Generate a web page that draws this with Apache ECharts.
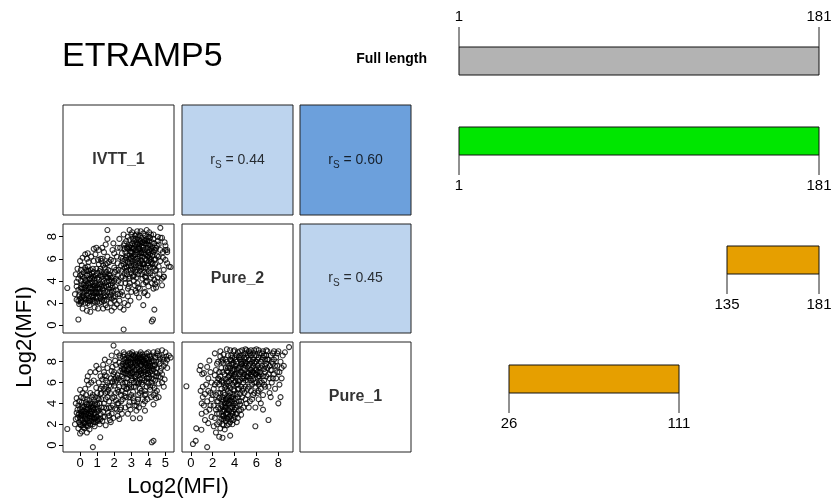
<!DOCTYPE html>
<html><head><meta charset="utf-8">
<script src="https://cdn.jsdelivr.net/npm/echarts@6.0.0/dist/echarts.min.js"></script>
<style>html,body{margin:0;padding:0;background:#fff}#c{width:838px;height:504px}</style>
</head><body><div id="c"></div>
<script>
// ---------------- data ----------------
const chartTitle = 'ETRAMP5';
const variables = ['IVTT_1', 'Pure_2', 'Pure_1'];
const corrCells = [[0, 1, 0.44], [0, 2, 0.60], [1, 2, 0.45]]; // row, col, Spearman r
const ivttTicks = [0, 1, 2, 3, 4, 5];
const pure2Ticks = [0, 2, 4, 6, 8];
const pure1Ticks = [0, 2, 4, 6, 8];
const axisTitle = 'Log2(MFI)';
const fragmentLabels = ['Full length', '', '', ''];
const fragmentStart = [1, 1, 135, 26];
const fragmentEnd = [181, 181, 181, 111];

// IVTT_1 (x) vs Pure_2 (y)
const scatterA = [
[-0.3,2.8],[-0.2,3.5],[-0.25,4.6],[-0.1,2.2],[-0.15,5.1],[0,3.0],[0.05,4.0],[-0.05,1.9],[0.1,2.5],[0.0,5.8],[-0.1,4.2],[0.1,3.3],[0.15,6.1],[0.05,2.0],[0.2,4.8],[0.15,1.5],[-0.2,3.9],[0.1,5.4],
[0.3,2.4],[0.35,3.1],[0.25,3.8],[0.4,4.5],[0.3,5.2],[0.45,2.0],[0.5,2.9],[0.55,3.6],[0.4,6.0],[0.6,4.2],[0.5,5.7],[0.35,4.0],[0.65,2.6],[0.7,3.3],[0.6,5.0],[0.45,6.5],[0.55,1.8],[0.3,3.4],[0.7,4.7],[0.65,6.2],[0.5,4.9],[0.4,1.3],[0.6,1.2],
[0.8,2.2],[0.85,3.0],[0.9,3.8],[0.75,4.4],[0.95,5.1],[1.0,2.6],[1.05,3.4],[0.8,5.8],[1.1,4.1],[0.9,6.4],[1.15,2.0],[1.0,4.7],[1.2,3.0],[0.85,1.6],[1.1,5.5],[0.95,7.0],[1.2,6.0],[0.75,3.6],[1.05,1.5],[1.2,4.5],[0.9,2.9],[1.1,6.8],
[1.3,2.3],[1.35,3.2],[1.4,4.0],[1.25,4.8],[1.5,5.5],[1.45,2.7],[1.55,3.5],[1.3,6.0],[1.6,4.3],[1.5,1.8],[1.65,5.0],[1.4,6.6],[1.7,2.5],[1.55,3.9],[1.35,1.5],[1.6,6.2],[1.45,4.6],[1.7,3.3],[1.25,5.8],[1.6,1.6],[1.5,7.3],[1.7,5.7],
[1.8,2.0],[1.85,3.0],[1.9,3.8],[1.75,4.5],[2.0,5.2],[1.95,2.5],[2.05,3.5],[1.8,5.9],[2.1,4.2],[2.0,1.6],[2.15,6.2],[1.9,6.8],[2.2,2.8],[2.05,4.8],[1.85,1.3],[2.2,5.6],[1.95,7.4],[2.1,3.2],[2.0,4.0],[1.8,3.6],[2.15,1.9],[2.2,7.0],
[2.3,2.2],[2.35,3.4],[2.4,4.3],[2.25,5.0],[2.5,5.8],[2.45,6.5],[2.55,7.2],[2.3,7.8],[2.6,4.7],[2.5,2.7],[2.65,3.8],[2.4,6.1],[2.7,5.3],[2.55,8.2],[2.35,1.6],[2.6,6.9],[2.45,3.0],[2.7,7.6],[2.25,4.0],[2.6,2.0],[2.5,4.4],[2.65,5.9],[2.35,7.0],[2.55,1.4],
[2.8,2.6],[2.85,3.5],[2.9,4.4],[2.75,5.2],[3.0,6.0],[2.95,6.7],[3.05,7.4],[2.8,8.0],[3.1,5.0],[3.0,3.0],[3.15,4.0],[2.9,5.6],[3.2,6.4],[3.05,8.4],[2.85,7.1],[3.1,7.8],[2.95,2.2],[3.2,3.6],[2.75,6.3],[3.15,5.5],[3.0,4.7],[2.8,1.8],[3.1,6.9],[2.9,8.6],[3.2,8.1],
[3.3,2.9],[3.35,3.8],[3.4,4.6],[3.25,5.4],[3.5,6.2],[3.45,6.9],[3.55,7.6],[3.3,8.2],[3.6,5.1],[3.5,3.3],[3.65,4.2],[3.4,5.8],[3.7,6.6],[3.55,8.5],[3.35,7.3],[3.6,7.9],[3.45,2.5],[3.7,3.7],[3.25,6.4],[3.65,5.6],[3.5,4.9],[3.3,4.3],[3.6,7.1],[3.4,8.0],[3.7,8.3],
[3.8,3.0],[3.85,3.9],[3.9,4.7],[3.75,5.5],[4.0,6.3],[3.95,7.0],[4.05,7.6],[3.8,8.1],[4.1,5.2],[4.0,3.5],[4.15,4.3],[3.9,5.9],[4.2,6.7],[4.05,8.4],[3.85,7.4],[4.1,7.9],[3.95,2.7],[4.2,3.8],[3.75,6.5],[4.15,5.7],[4.0,4.9],[3.8,4.4],[4.1,7.2],[3.9,8.6],
[4.3,3.3],[4.35,4.1],[4.4,4.9],[4.25,5.6],[4.5,6.3],[4.45,7.0],[4.55,7.6],[4.3,8.2],[4.6,5.3],[4.5,3.9],[4.65,4.6],[4.4,6.0],[4.7,6.8],[4.55,8.0],[4.35,7.4],[4.6,7.3],[4.25,4.5],[4.7,5.8],[4.3,6.6],[4.45,3.4],
[4.8,4.2],[4.9,5.0],[4.85,6.1],[5.0,6.8],[4.95,7.5],[5.1,5.6],[4.8,7.9],[5.2,5.3],[5.1,6.6],[4.9,4.4],[5.0,7.2],[4.8,3.6],
[-0.75,3.35],[2.55,-0.4],[4.2,0.33],[4.27,0.5],[-0.1,0.5],[4.35,1.4],[3.7,1.8],[1.6,8.6],[4.7,8.8],[5.1,6.8],[5.3,5.25],[4.9,4.35],
[0.0,2.4],[0.2,3.0],[0.3,2.0],[0.1,3.7],[0.4,2.7],[0.5,3.3],[0.6,2.2],[0.7,3.9],[0.8,2.7],[0.9,3.3],[1.0,2.1],[1.1,3.7],[1.2,2.4],[1.3,3.9],[1.4,2.9],[1.5,4.4],[1.6,3.0],[1.7,4.0],[1.8,2.7],[1.9,4.3],
[0.25,4.3],[0.55,4.6],[0.85,4.2],[1.15,4.9],[1.45,5.2],[1.75,4.9],[0.15,2.7],[0.45,3.8],[0.75,2.9],[1.05,4.3],[1.35,2.6],[1.65,3.6],[1.95,3.1],[0.35,2.3],[0.65,3.0],[0.95,2.4],[1.25,3.5],[1.55,2.3],[1.85,4.0],[0.05,3.4],
[2.6,5.2],[2.7,6.1],[2.8,6.9],[2.9,7.7],[3.0,5.3],[3.1,6.2],[3.2,7.3],[3.3,5.0],[3.4,6.4],[3.5,7.4],[3.6,5.8],[3.7,7.0],[3.8,6.0],[3.9,7.8],[4.0,5.4],[4.1,6.4],[4.2,7.5],[4.3,5.2],[4.4,6.8],
[2.75,4.6],[2.95,5.0],[3.15,4.5],[3.35,6.0],[3.55,5.3],[3.75,4.8],[3.95,6.2],[4.15,6.0],[4.35,5.9],[2.85,6.0],[3.05,6.5],[3.25,7.8],[3.45,7.7],[3.65,6.2],[3.85,5.2],[4.05,6.8],[4.25,7.0],[2.65,4.2],[3.0,7.0],[3.5,5.6],[4.0,7.3],
[-0.2,2.3],[-0.1,3.2],[0.0,4.5],[0.1,2.1],[0.2,3.6],[0.3,4.1],[0.4,3.1],[0.5,2.4],[0.6,3.8],[0.7,2.3],[0.8,4.8],[0.9,4.5],[1.0,3.6],[1.1,2.9],[1.2,5.1],[1.3,4.4],[1.4,3.5],[1.5,2.6],[1.6,5.6],[1.7,4.6],[1.8,4.3],[1.9,3.4],[2.0,2.2],[2.1,5.0],
[0.15,4.4],[0.45,5.3],[0.75,5.1],[1.05,5.9],[1.35,5.4],[1.65,4.3],[1.95,5.8],[-0.05,2.7],[0.25,2.5],[0.55,4.1],[0.85,3.5],[1.15,3.3],[1.45,3.8],[1.75,3.0],[2.05,2.6],[0.35,5.0],[0.65,4.4],[0.95,3.0],[1.25,2.1],[1.55,4.8],[1.85,2.4],[0.05,5.0],[0.3,6.4],[0.8,6.9],[1.3,7.0],
[2.4,5.4],[2.5,6.0],[2.6,7.4],[2.7,4.9],[2.8,5.7],[2.9,6.3],[3.0,8.2],[3.1,4.4],[3.2,5.9],[3.3,6.8],[3.4,7.4],[3.5,8.1],[3.6,4.6],[3.7,5.2],[3.8,6.8],[3.9,7.3],[4.0,8.0],[4.1,4.7],[4.2,5.5],[4.3,7.8],[4.4,5.5],[4.5,7.2],[4.6,6.2],
[2.45,4.9],[2.65,6.6],[2.85,4.2],[3.05,5.8],[3.25,4.8],[3.45,5.2],[3.65,7.5],[3.85,4.3],[4.05,5.8],[4.25,6.3],[4.45,5.0],[2.55,5.5],[2.75,7.0],[2.95,7.2],[3.15,7.0],[3.35,8.5],[3.55,6.5],[3.75,7.7],[3.95,5.6],[4.15,8.2],[4.35,6.8],
[2.4,3.8],[2.9,3.8],[3.4,3.4],[3.9,4.0],[4.4,3.7],[2.35,2.8],[2.8,3.3],[3.25,3.1],[3.75,2.9],[4.55,4.3],[4.7,7.9],[4.85,6.6],[5.0,5.9],[2.2,4.5],[2.0,6.5],[1.6,7.8],
[0.05,2.2],[0.2,2.6],[0.35,3.6],[0.5,2.2],[0.6,3.4],[0.75,2.5],[0.9,3.6],[1.0,2.9],[1.15,2.6],[1.3,3.3],[1.4,2.2],[0.1,4.6],[0.4,4.9],[0.7,4.2],[1.0,4.2],[1.2,3.7],[1.35,4.6],[0.25,3.3],[0.55,3.0],[0.85,2.1],
[2.85,5.4],[2.95,6.1],[3.05,7.0],[3.15,7.6],[3.25,5.7],[3.35,6.6],[3.45,7.1],[3.55,5.9],[3.65,6.8],[3.75,7.4],[3.85,6.4],[3.95,7.6],[4.05,6.1],[4.15,6.9],[3.0,6.6],[3.2,5.2],[3.4,6.9],[3.6,6.5],[3.8,7.6],[4.0,6.6],[3.3,7.5],[3.7,5.5],[2.9,7.0],[3.5,6.9]
];

// IVTT_1 (x) vs Pure_1 (y)
const scatterB = [
[-0.3,2.0],[-0.2,3.1],[-0.25,4.0],[-0.1,1.6],[-0.15,2.6],[0,3.5],[0.05,4.6],[-0.05,2.2],[0.1,1.3],[0,5.3],[-0.1,3.8],[0.1,2.9],[0.15,5.0],[0.05,1.9],[0.2,3.3],[0.15,2.4],[-0.2,4.5],[0.1,4.1],[0.0,1.1],[0.2,1.7],
[0.3,2.1],[0.35,3.0],[0.25,3.7],[0.4,4.4],[0.3,5.4],[0.45,1.8],[0.5,2.6],[0.55,3.4],[0.4,6.2],[0.6,4.0],[0.5,5.8],[0.35,4.8],[0.65,2.3],[0.7,3.2],[0.6,5.0],[0.45,6.6],[0.55,1.5],[0.3,2.8],[0.7,4.6],[0.65,6.0],[0.5,3.9],[0.4,1.2],[0.6,7.0],
[0.8,2.2],[0.85,3.1],[0.9,3.9],[0.75,4.8],[0.95,5.5],[1.0,2.7],[1.05,3.5],[0.8,6.2],[1.1,4.4],[0.9,7.0],[1.15,2.0],[1.0,5.0],[1.2,3.0],[0.85,1.8],[1.1,6.0],[0.95,7.6],[1.2,6.6],[0.75,3.6],[1.05,4.5],[1.2,5.4],[0.9,2.6],[1.1,7.3],
[1.3,2.3],[1.35,3.2],[1.4,4.0],[1.25,5.0],[1.5,5.6],[1.45,2.7],[1.55,3.5],[1.3,6.3],[1.6,4.6],[1.5,1.9],[1.65,5.3],[1.4,7.0],[1.7,2.8],[1.55,6.6],[1.35,7.7],[1.6,6.0],[1.45,8.2],[1.7,3.6],[1.25,4.4],[1.6,7.4],[1.5,4.4],[1.7,8.0],
[1.8,2.2],[1.85,3.0],[1.9,3.8],[1.75,5.0],[2.0,5.7],[1.95,2.6],[2.05,3.5],[1.8,6.4],[2.1,4.3],[2.0,7.0],[2.15,6.2],[1.9,7.5],[2.2,2.8],[2.05,8.1],[1.85,8.6],[2.2,5.3],[1.95,6.8],[2.1,7.7],[2.0,4.6],[1.8,3.6],[2.15,8.9],[2.2,6.7],
[2.3,2.5],[2.35,3.4],[2.4,4.2],[2.25,5.1],[2.5,5.9],[2.45,6.6],[2.55,7.3],[2.3,7.9],[2.6,4.7],[2.5,8.5],[2.65,3.6],[2.4,6.2],[2.7,5.4],[2.55,8.9],[2.35,7.1],[2.6,6.9],[2.45,3.0],[2.7,7.7],[2.25,4.0],[2.6,8.2],[2.5,4.4],[2.65,6.0],[2.35,8.4],[2.55,5.6],
[2.8,3.0],[2.85,3.8],[2.9,4.6],[2.75,5.4],[3.0,6.2],[2.95,6.9],[3.05,7.5],[2.8,8.1],[3.1,5.1],[3.0,8.7],[3.15,4.2],[2.9,5.8],[3.2,6.6],[3.05,8.9],[2.85,7.2],[3.1,7.9],[2.95,3.4],[3.2,3.8],[2.75,6.4],[3.15,5.6],[3.0,4.8],[2.8,8.6],[3.1,7.0],[2.9,8.3],[3.2,8.4],
[3.3,3.3],[3.35,4.1],[3.4,4.8],[3.25,5.6],[3.5,6.3],[3.45,7.0],[3.55,7.6],[3.3,8.2],[3.6,5.2],[3.5,8.7],[3.65,4.4],[3.4,5.9],[3.7,6.7],[3.55,8.9],[3.35,7.4],[3.6,8.0],[3.45,3.6],[3.7,3.9],[3.25,6.5],[3.65,5.8],[3.5,5.0],[3.3,8.7],[3.6,7.2],[3.4,8.4],[3.7,8.5],
[3.8,4.2],[3.85,4.9],[3.9,5.6],[3.75,6.2],[4.0,6.8],[3.95,7.4],[4.05,8.0],[3.8,8.5],[4.1,5.3],[4.0,8.9],[4.15,4.6],[3.9,6.4],[4.2,7.1],[4.05,8.6],[3.85,7.7],[4.1,7.8],[3.95,4.4],[4.2,6.0],[3.75,7.0],[4.15,8.3],[4.0,5.9],[3.8,5.2],
[4.3,4.8],[4.35,5.5],[4.4,6.2],[4.25,6.8],[4.5,7.4],[4.45,8.0],[4.55,8.6],[4.3,8.9],[4.6,6.6],[4.5,5.2],[4.65,7.8],[4.4,7.0],[4.7,8.3],[4.55,9.0],[4.35,7.6],[4.6,5.9],[4.25,5.7],[4.7,7.1],[4.3,6.3],[4.45,4.5],
[4.8,6.8],[4.9,7.6],[4.85,8.4],[5.0,8.9],[4.95,6.3],[5.1,8.2],[4.8,9.1],[5.2,8.6],[5.1,7.4],[4.9,5.6],[5.0,7.9],[4.8,6.0],
[-0.75,1.54],[0.75,-0.2],[1.18,0.74],[4.2,0.26],[4.3,0.4],[3.1,2.57],[3.5,2.57],[1.96,9.55],[5.3,8.4],[3.8,3.3],[4.3,3.9],[4.6,4.6],
[0.0,2.6],[0.2,2.1],[0.3,3.2],[0.1,3.0],[0.4,2.5],[0.5,3.1],[0.6,2.0],[0.7,2.7],[0.8,3.4],[0.9,2.2],[1.0,3.2],[0.25,1.6],[0.45,3.6],[0.15,3.6],[0.55,2.8],[0.35,1.9],[0.65,3.7],[0.85,2.5],[1.1,2.5],[-0.05,3.0],
[2.5,7.0],[2.6,7.6],[2.7,8.3],[2.8,6.8],[2.9,7.4],[3.0,7.8],[3.1,8.3],[3.2,7.2],[3.3,7.7],[3.4,6.7],[3.5,7.9],[3.6,8.4],[3.7,7.4],[3.8,7.9],[3.9,8.3],[4.0,7.6],[4.1,8.5],[4.2,8.0],[4.3,7.3],[4.4,8.4],
[2.55,6.4],[2.75,7.6],[2.95,8.0],[3.15,6.0],[3.35,6.2],[3.55,6.8],[3.75,8.1],[3.95,6.9],[4.15,7.4],[2.85,5.5],[3.05,6.4],[3.25,7.9],[3.45,6.0],[3.65,6.4],[3.85,6.8],[4.05,7.2],[2.65,5.0],[3.0,5.6],[3.5,5.4],[4.0,6.4],
[-0.25,2.5],[-0.15,3.4],[-0.05,4.2],[0.05,2.8],[0.15,1.9],[0.25,3.0],[0.35,4.1],[0.45,2.3],[0.55,4.3],[0.65,3.3],[0.75,2.0],[0.85,4.0],[0.95,3.4],[1.05,2.3],[1.15,4.0],[-0.1,2.9],[0.0,2.0],[0.1,3.8],[0.2,4.5],[0.3,2.5],[0.4,3.4],[0.5,2.1],[0.6,3.0],[0.7,4.0],[0.8,2.6],[0.9,4.6],[1.0,3.9],[1.1,3.3],[1.2,2.5],[0.05,3.2],
[1.2,4.9],[1.3,5.6],[1.4,3.6],[1.5,6.2],[1.6,5.1],[1.7,4.2],[1.8,5.6],[1.9,4.5],[2.0,6.3],[2.1,5.0],[2.2,4.0],[2.3,5.6],[2.4,4.8],[1.25,3.6],[1.45,6.7],[1.65,3.1],[1.85,7.1],[2.05,6.0],[2.25,6.4],[2.45,5.2],[1.35,2.7],[1.75,2.4],[2.15,3.4],
[2.3,8.6],[2.4,7.6],[2.5,7.8],[2.6,8.7],[2.7,6.9],[2.8,7.3],[2.9,8.8],[3.0,7.2],[3.1,8.6],[3.2,7.7],[3.3,6.8],[3.4,7.9],[3.5,8.3],[3.6,6.9],[3.7,8.0],[3.8,7.2],[3.9,8.8],[4.0,7.9],[4.1,7.0],[4.2,8.6],[4.3,8.1],[4.4,7.7],[4.5,8.8],[4.6,8.0],
[2.45,7.3],[2.65,7.9],[2.85,8.4],[3.05,6.9],[3.25,8.5],[3.45,7.3],[3.65,8.7],[3.85,8.3],[4.05,6.5],[4.25,7.6],[4.45,6.6],[4.65,8.6],[2.75,6.0],[3.0,6.6],[3.3,6.0],[3.6,6.0],[3.9,6.1],[4.2,6.4],[4.5,6.9],
[2.7,4.6],[3.1,4.5],[3.4,4.4],[3.8,4.8],[2.4,3.6],[2.9,4.1],[3.3,3.8],[4.1,5.6],[4.4,5.0],[4.75,7.4],[4.9,8.2],[5.05,8.5],[4.7,6.5],
[2.6,7.2],[2.7,8.0],[2.8,7.9],[2.9,6.7],[3.0,8.3],[3.1,7.5],[3.2,8.0],[3.3,7.2],[3.4,8.1],[3.5,7.1],[3.6,7.7],[3.7,8.2],[3.8,7.5],[3.9,7.8],[4.0,8.2],[4.1,7.6],[2.75,7.1],[2.95,7.7],[3.15,8.6],[3.35,8.0],[3.55,8.2],[3.75,7.8],[3.95,7.1],[3.45,8.6],
[0.05,2.4],[0.15,3.2],[0.25,2.2],[0.35,3.5],[0.45,2.9],[0.55,2.3],[0.65,3.0],[0.75,3.5],[0.85,2.9],[0.95,2.7],[0.2,2.8],[0.6,2.6],[0.4,3.9],[0.8,3.8],[1.0,2.4],[1.5,5.0],[1.7,5.7],[1.9,6.1],[1.4,5.4],[2.1,6.5]
];

// Pure_2 (x) vs Pure_1 (y)
const scatterC = [
[1.0,3.0],[1.2,3.8],[1.1,4.6],[0.9,5.2],[1.3,2.4],[1.4,5.8],[1.5,4.2],[1.6,6.4],[1.2,6.9],[1.7,3.4],[1.8,5.0],[1.5,7.5],[1.9,2.7],[1.6,2.1],[1.0,4.0],[1.3,4.9],[1.8,7.0],[1.9,6.0],[1.4,3.2],[1.7,8.1],[1.1,5.6],[1.9,4.4],
[2.1,1.8],[2.2,2.6],[2.3,3.4],[2.4,4.2],[2.5,5.0],[2.6,5.8],[2.7,6.6],[2.8,7.4],[2.9,8.2],[2.2,8.8],[2.3,7.2],[2.5,6.4],[2.1,5.4],[2.4,3.0],[2.6,2.2],[2.8,3.8],[2.9,4.6],[2.7,1.6],[2.3,4.8],[2.5,8.0],[2.8,5.4],[2.1,3.8],[2.6,7.0],[2.9,6.2],[2.4,6.0],[2.7,9.0],[2.2,6.7],[2.9,2.8],[2.5,3.6],[2.3,1.2],
[3.1,1.5],[3.2,2.3],[3.3,3.1],[3.4,3.9],[3.5,4.7],[3.6,5.5],[3.7,6.3],[3.8,7.1],[3.9,7.9],[3.0,8.7],[3.1,6.8],[3.3,6.0],[3.5,7.6],[3.2,4.4],[3.4,5.2],[3.6,2.8],[3.8,3.6],[3.9,4.4],[3.7,8.6],[3.3,9.2],[3.0,5.0],[3.5,2.0],[3.8,5.8],[3.2,7.4],[3.6,8.2],[3.9,6.6],[3.4,8.6],[3.0,3.4],[3.7,4.0],[3.1,2.6],[3.5,3.3],[3.9,2.4],[3.3,1.9],[3.6,9.1],
[4.1,3.0],[4.2,3.8],[4.3,4.6],[4.4,5.4],[4.5,6.2],[4.6,7.0],[4.7,7.8],[4.8,8.6],[4.9,5.0],[4.0,9.1],[4.1,6.6],[4.3,7.4],[4.5,8.2],[4.2,5.8],[4.4,4.2],[4.6,3.4],[4.8,6.0],[4.9,6.8],[4.7,4.6],[4.3,8.9],[4.0,5.2],[4.5,4.9],[4.8,7.4],[4.2,8.0],[4.6,5.6],[4.9,8.4],[4.4,6.8],[4.0,7.3],[4.7,9.1],[4.1,4.4],[4.3,2.6],[4.6,2.9],
[5.1,4.0],[5.2,4.8],[5.3,5.6],[5.4,6.4],[5.5,7.2],[5.6,8.0],[5.7,8.8],[5.8,6.0],[5.9,6.8],[5.0,7.6],[5.1,8.4],[5.3,9.0],[5.5,5.2],[5.2,6.2],[5.4,7.8],[5.6,4.4],[5.8,5.0],[5.9,8.0],[5.7,7.0],[5.0,5.6],[5.3,3.6],[5.6,6.6],[5.8,8.6],[5.2,7.0],[5.5,8.6],[5.9,3.6],[5.1,9.1],[5.4,4.2],
[6.1,5.0],[6.2,5.8],[6.3,6.6],[6.4,7.4],[6.5,8.2],[6.6,9.0],[6.7,6.2],[6.8,7.0],[6.9,7.8],[6.0,8.6],[6.2,4.4],[6.4,5.4],[6.6,8.4],[6.8,5.6],[6.0,6.8],[6.3,8.8],[6.5,6.0],[6.7,8.6],[6.9,6.6],[6.1,7.6],[6.4,4.0],[6.6,4.8],[6.2,9.1],[6.8,8.2],
[7.1,5.6],[7.2,6.4],[7.3,7.2],[7.4,8.0],[7.5,8.8],[7.6,6.8],[7.7,7.6],[7.8,8.4],[7.0,9.0],[7.2,5.0],[7.4,6.0],[7.6,9.0],[7.8,6.4],[7.0,7.4],[7.3,4.6],[7.5,7.8],[7.9,7.0],[7.1,8.2],[7.7,5.4],[7.9,8.8],
[8.1,7.0],[8.2,8.0],[8.4,8.6],[8.3,6.4],[8.0,9.0],[8.5,7.6],[8.1,5.8],[8.6,8.9],[8.2,4.6],
[-0.4,5.64],[1.5,-0.2],[0.2,0.1],[0.45,0.4],[0.5,1.6],[0.97,1.47],[0.9,7.6],[0.8,7.2],[8.98,9.4],[7.1,2.4],[5.9,1.8],[1.05,6.8],[2.6,0.8],[2.9,0.7],[3.6,0.9],[6.6,3.4],[8.0,4.0],
[2.6,4.5],[2.8,2.5],[3.0,1.9],[3.2,3.6],[3.4,2.5],[3.6,4.3],[3.8,2.0],[4.0,3.4],[4.2,2.2],[3.1,4.0],[3.3,5.4],[3.5,6.1],[3.7,6.9],[3.9,5.3],[4.1,7.6],[4.3,6.2],[4.5,7.5],[4.7,6.4],[4.9,7.8],[5.1,6.6],
[5.3,8.2],[5.5,6.8],[5.7,7.6],[5.9,7.4],[6.1,8.2],[6.3,7.0],[6.5,7.6],[6.7,7.3],[2.7,8.5],[3.0,7.9],[3.4,7.0],[3.8,8.4],[4.2,8.6],[4.6,8.4],[5.0,8.8],[5.4,8.8],[5.8,9.1],[6.2,8.4],
[2.8,6.1],[3.2,5.7],[3.6,5.0],[4.0,6.0],[4.4,7.4],[4.8,5.4],[5.2,5.4],[5.6,5.8],[6.0,6.0],[2.9,3.2],[3.3,4.5],[3.7,3.2],
[2.4,2.0],[2.6,3.0],[2.8,4.4],[3.0,2.5],[3.2,3.0],[3.4,4.6],[3.6,2.2],[3.8,4.6],[4.0,2.7],[4.2,4.9],[4.4,3.3],[4.6,4.2],[2.5,4.2],[2.7,3.5],[2.9,2.0],[3.1,3.3],[3.3,2.6],[3.5,4.0],[3.7,2.5],[3.9,3.8],[4.1,3.6],[4.3,5.4],[4.5,3.9],[4.7,5.2],[3.0,4.3],[3.4,3.4],[3.8,3.0],[4.2,3.0],[2.7,5.0],[3.1,4.8],[3.5,5.7],[3.9,4.9],
[2.6,6.3],[2.8,8.0],[3.0,6.0],[3.2,8.2],[3.4,6.5],[3.6,7.4],[3.8,6.4],[4.0,8.4],[4.2,6.8],[4.4,8.4],[4.6,7.8],[4.8,8.0],[5.0,6.2],[5.2,8.6],[5.4,7.2],[5.6,7.0],[5.8,7.9],[6.0,7.2],[6.2,6.6],[6.4,8.0],[6.6,6.6],[6.8,7.6],[7.0,8.2],[7.2,7.6],[7.4,7.2],[7.6,8.2],
[2.9,7.0],[3.3,8.0],[3.7,7.8],[4.1,8.2],[4.5,6.8],[4.9,7.2],[5.3,7.6],[5.7,8.2],[6.1,7.0],[6.5,8.8],[6.9,8.6],[7.3,8.6],[3.1,5.5],[3.5,6.6],[3.9,7.2],[4.3,5.8],[4.7,7.0],[5.1,7.8],[5.5,6.2],[5.9,5.6],[6.3,6.0],[6.7,5.8],[7.1,6.8],[7.5,6.4],
[4.5,9.0],[5.0,9.2],[5.5,9.1],[6.0,9.2],[6.9,9.1],[3.9,9.0],[2.4,7.8],[2.2,5.8],[2.0,4.8],[1.8,3.8],[1.6,5.2],[7.9,7.6],[8.3,7.4],[6.2,5.2],[5.7,4.8],[5.0,4.4],[4.8,3.6],
[3.2,6.3],[3.4,7.4],[3.6,6.7],[3.8,7.7],[4.0,6.8],[4.2,7.3],[4.4,6.1],[4.6,8.0],[4.8,6.6],[5.0,7.9],[5.2,6.6],[5.4,8.2],[5.6,7.4],[5.8,6.9],[6.0,8.0],[6.2,7.4],[6.4,6.8],[3.3,7.1],[3.7,8.1],[4.1,6.1],[4.5,8.6],[4.9,6.4],[5.3,6.9],[5.7,6.3],[6.1,6.5],
[3.0,2.8],[3.2,4.0],[3.4,3.0],[3.6,3.6],[3.8,4.2],[4.0,4.0],[3.1,3.7],[3.5,2.7],[3.9,3.2],[3.3,4.2],[2.9,3.7],[3.7,4.6]
];

// ---------------- layout & style ----------------
const FONT = '"Liberation Sans", Arial, Helvetica, sans-serif';
const colX = [63, 182, 300], colW = 111;
const rowY = [105, 224, 342], rowH = [110, 109, 110];
const limIVTT = [-1.0, 5.5];
const limPure2Y = [-0.72, 9.15];
const limPure2X = [-0.8, 9.34];
const limPure1 = [-0.67, 9.89];
const fragTop = [47, 127, 246, 365], fragH = 28, fragLeft = 459, fragW = 360;
const fragColors = ['#b3b3b3', '#00e600', '#e69f00', '#e69f00'];
const fragTicksAbove = [true, false, false, false];
function corrColor(r) { return r >= 0.5 ? '#6ca0dc' : '#bdd4ee'; }

const grids = [], xAxes = [], yAxes = [], series = [];
function cellRect(row, col) {
  return { left: colX[col], top: rowY[row], width: colW, height: rowH[row] };
}
function hiddenAxis(min, max, gi) {
  return { type: 'value', gridIndex: gi, min: min, max: max, show: false };
}
function tickAxis(kind, lim, ticks, gi) {
  const show = !!ticks;
  return {
    type: 'value', gridIndex: gi, min: lim[0], max: lim[1],
    position: kind === 'y' ? 'left' : 'bottom',
    splitLine: { show: false }, axisLine: { show: false, onZero: false },
    axisTick: { show: show, inside: false, length: 4, lineStyle: { color: '#000', width: 1 }, customValues: ticks || [] },
    axisLabel: { show: show, customValues: ticks || [], color: '#000', fontSize: 13, fontFamily: FONT,
      margin: kind === 'y' ? 4 : 5, rotate: kind === 'y' ? 90 : 0 }
  };
}

// scatter panels
const scatterPanels = [
  { row: 1, col: 0, data: scatterA, xl: limIVTT, yl: limPure2Y, xt: null, yt: pure2Ticks },
  { row: 2, col: 0, data: scatterB, xl: limIVTT, yl: limPure1, xt: ivttTicks, yt: pure1Ticks },
  { row: 2, col: 1, data: scatterC, xl: limPure2X, yl: limPure1, xt: pure2Ticks, yt: null }
];
scatterPanels.forEach(p => {
  const gi = grids.length;
  grids.push(Object.assign({ show: true, borderColor: '#222', borderWidth: 1, backgroundColor: '#fff' }, cellRect(p.row, p.col)));
  xAxes.push(tickAxis('x', p.xl, p.xt, gi));
  yAxes.push(tickAxis('y', p.yl, p.yt, gi));
  series.push({
    type: 'scatter', xAxisIndex: gi, yAxisIndex: gi, data: p.data, symbol: 'circle', symbolSize: 5,
    itemStyle: { color: 'rgba(255,255,255,0)', borderColor: '#000', borderWidth: 1.1 }, silent: true
  });
});

// diagonal name panels
variables.forEach((v, i) => {
  const gi = grids.length;
  grids.push(Object.assign({ show: true, borderColor: '#222', borderWidth: 1, backgroundColor: '#fff' }, cellRect(i, i)));
  xAxes.push(hiddenAxis(0, 1, gi)); yAxes.push(hiddenAxis(0, 1, gi));
  series.push({
    type: 'scatter', xAxisIndex: gi, yAxisIndex: gi, data: [[0.5, 0.5]], symbolSize: 0, silent: true,
    label: { show: true, position: 'inside', formatter: v, color: '#000', fontSize: 16, fontWeight: 'bold', fontFamily: FONT }
  });
});

// correlation panels
corrCells.forEach(([r, c, val]) => {
  const gi = grids.length;
  grids.push(Object.assign({ show: true, borderColor: '#222', borderWidth: 1, backgroundColor: corrColor(val) }, cellRect(r, c)));
  xAxes.push(hiddenAxis(0, 1, gi)); yAxes.push(hiddenAxis(0, 1, gi));
  series.push({
    type: 'scatter', xAxisIndex: gi, yAxisIndex: gi, data: [[0.5, 0.5]], symbolSize: 0, silent: true,
    label: {
      show: true, position: 'inside', formatter: '{a|r}{b|S}{a| = ' + val.toFixed(2) + '}',
      rich: {
        a: { fontSize: 14, color: '#000', fontFamily: FONT, lineHeight: 20, verticalAlign: 'middle' },
        b: { fontSize: 10, color: '#000', fontFamily: FONT, lineHeight: 10, verticalAlign: 'bottom' }
      }
    }
  });
});

// fragment bars
fragmentStart.forEach((s, i) => {
  const gi = grids.length;
  grids.push({ left: fragLeft, top: fragTop[i], width: fragW, height: fragH, show: false });
  xAxes.push(hiddenAxis(1, 181, gi)); yAxes.push(hiddenAxis(0, 1, gi));
  series.push({
    type: 'custom', xAxisIndex: gi, yAxisIndex: gi, silent: true,
    data: [[s, fragmentEnd[i]]],
    renderItem: function (params, api) {
      const p0 = api.coord([api.value(0), 1]);
      const p1 = api.coord([api.value(1), 0]);
      const children = [{
        type: 'rect', shape: { x: p0[0], y: p0[1], width: p1[0] - p0[0], height: p1[1] - p0[1] },
        style: { fill: fragColors[i], stroke: '#111', lineWidth: 1 }
      }];
      const above = fragTicksAbove[i];
      const y0 = above ? p0[1] : p1[1];
      const dir = above ? -1 : 1;
      [[p0[0], api.value(0)], [p1[0], api.value(1)]].forEach(([x, v]) => {
        children.push({ type: 'line', shape: { x1: x, y1: y0, x2: x, y2: y0 + dir * 20 }, style: { stroke: '#222', lineWidth: 1 } });
        children.push({ type: 'text', x: x, y: y0 + dir * 30.5,
          style: { text: String(v), fill: '#000', font: '15px ' + FONT, align: 'center', verticalAlign: 'middle' } });
      });
      if (fragmentLabels[i]) {
        children.push({ type: 'text', x: p0[0] - 32, y: (p0[1] + p1[1]) / 2 - 1.5,
          style: { text: fragmentLabels[i], fill: '#000', font: 'bold 14px ' + FONT, align: 'right', verticalAlign: 'middle' } });
      }
      return { type: 'group', children: children };
    }
  });
});

const option = {
  animation: false,
  backgroundColor: '#fff',
  grid: grids, xAxis: xAxes, yAxis: yAxes, series: series,
  graphic: [
    { type: 'text', x: 62, y: 57, style: { text: chartTitle, fill: '#000', font: '34px ' + FONT, align: 'left', verticalAlign: 'middle' } },
    { type: 'text', x: 178, y: 487, style: { text: axisTitle, fill: '#000', font: '22px ' + FONT, align: 'center', verticalAlign: 'middle' } },
    { type: 'text', x: 25, y: 337, rotation: Math.PI / 2, style: { text: axisTitle, fill: '#000', font: '22px ' + FONT, align: 'center', verticalAlign: 'middle' } }
  ]
};
const chart = echarts.init(document.getElementById('c'), null, { renderer: 'canvas' });
chart.setOption(option);
</script>
</body></html>
